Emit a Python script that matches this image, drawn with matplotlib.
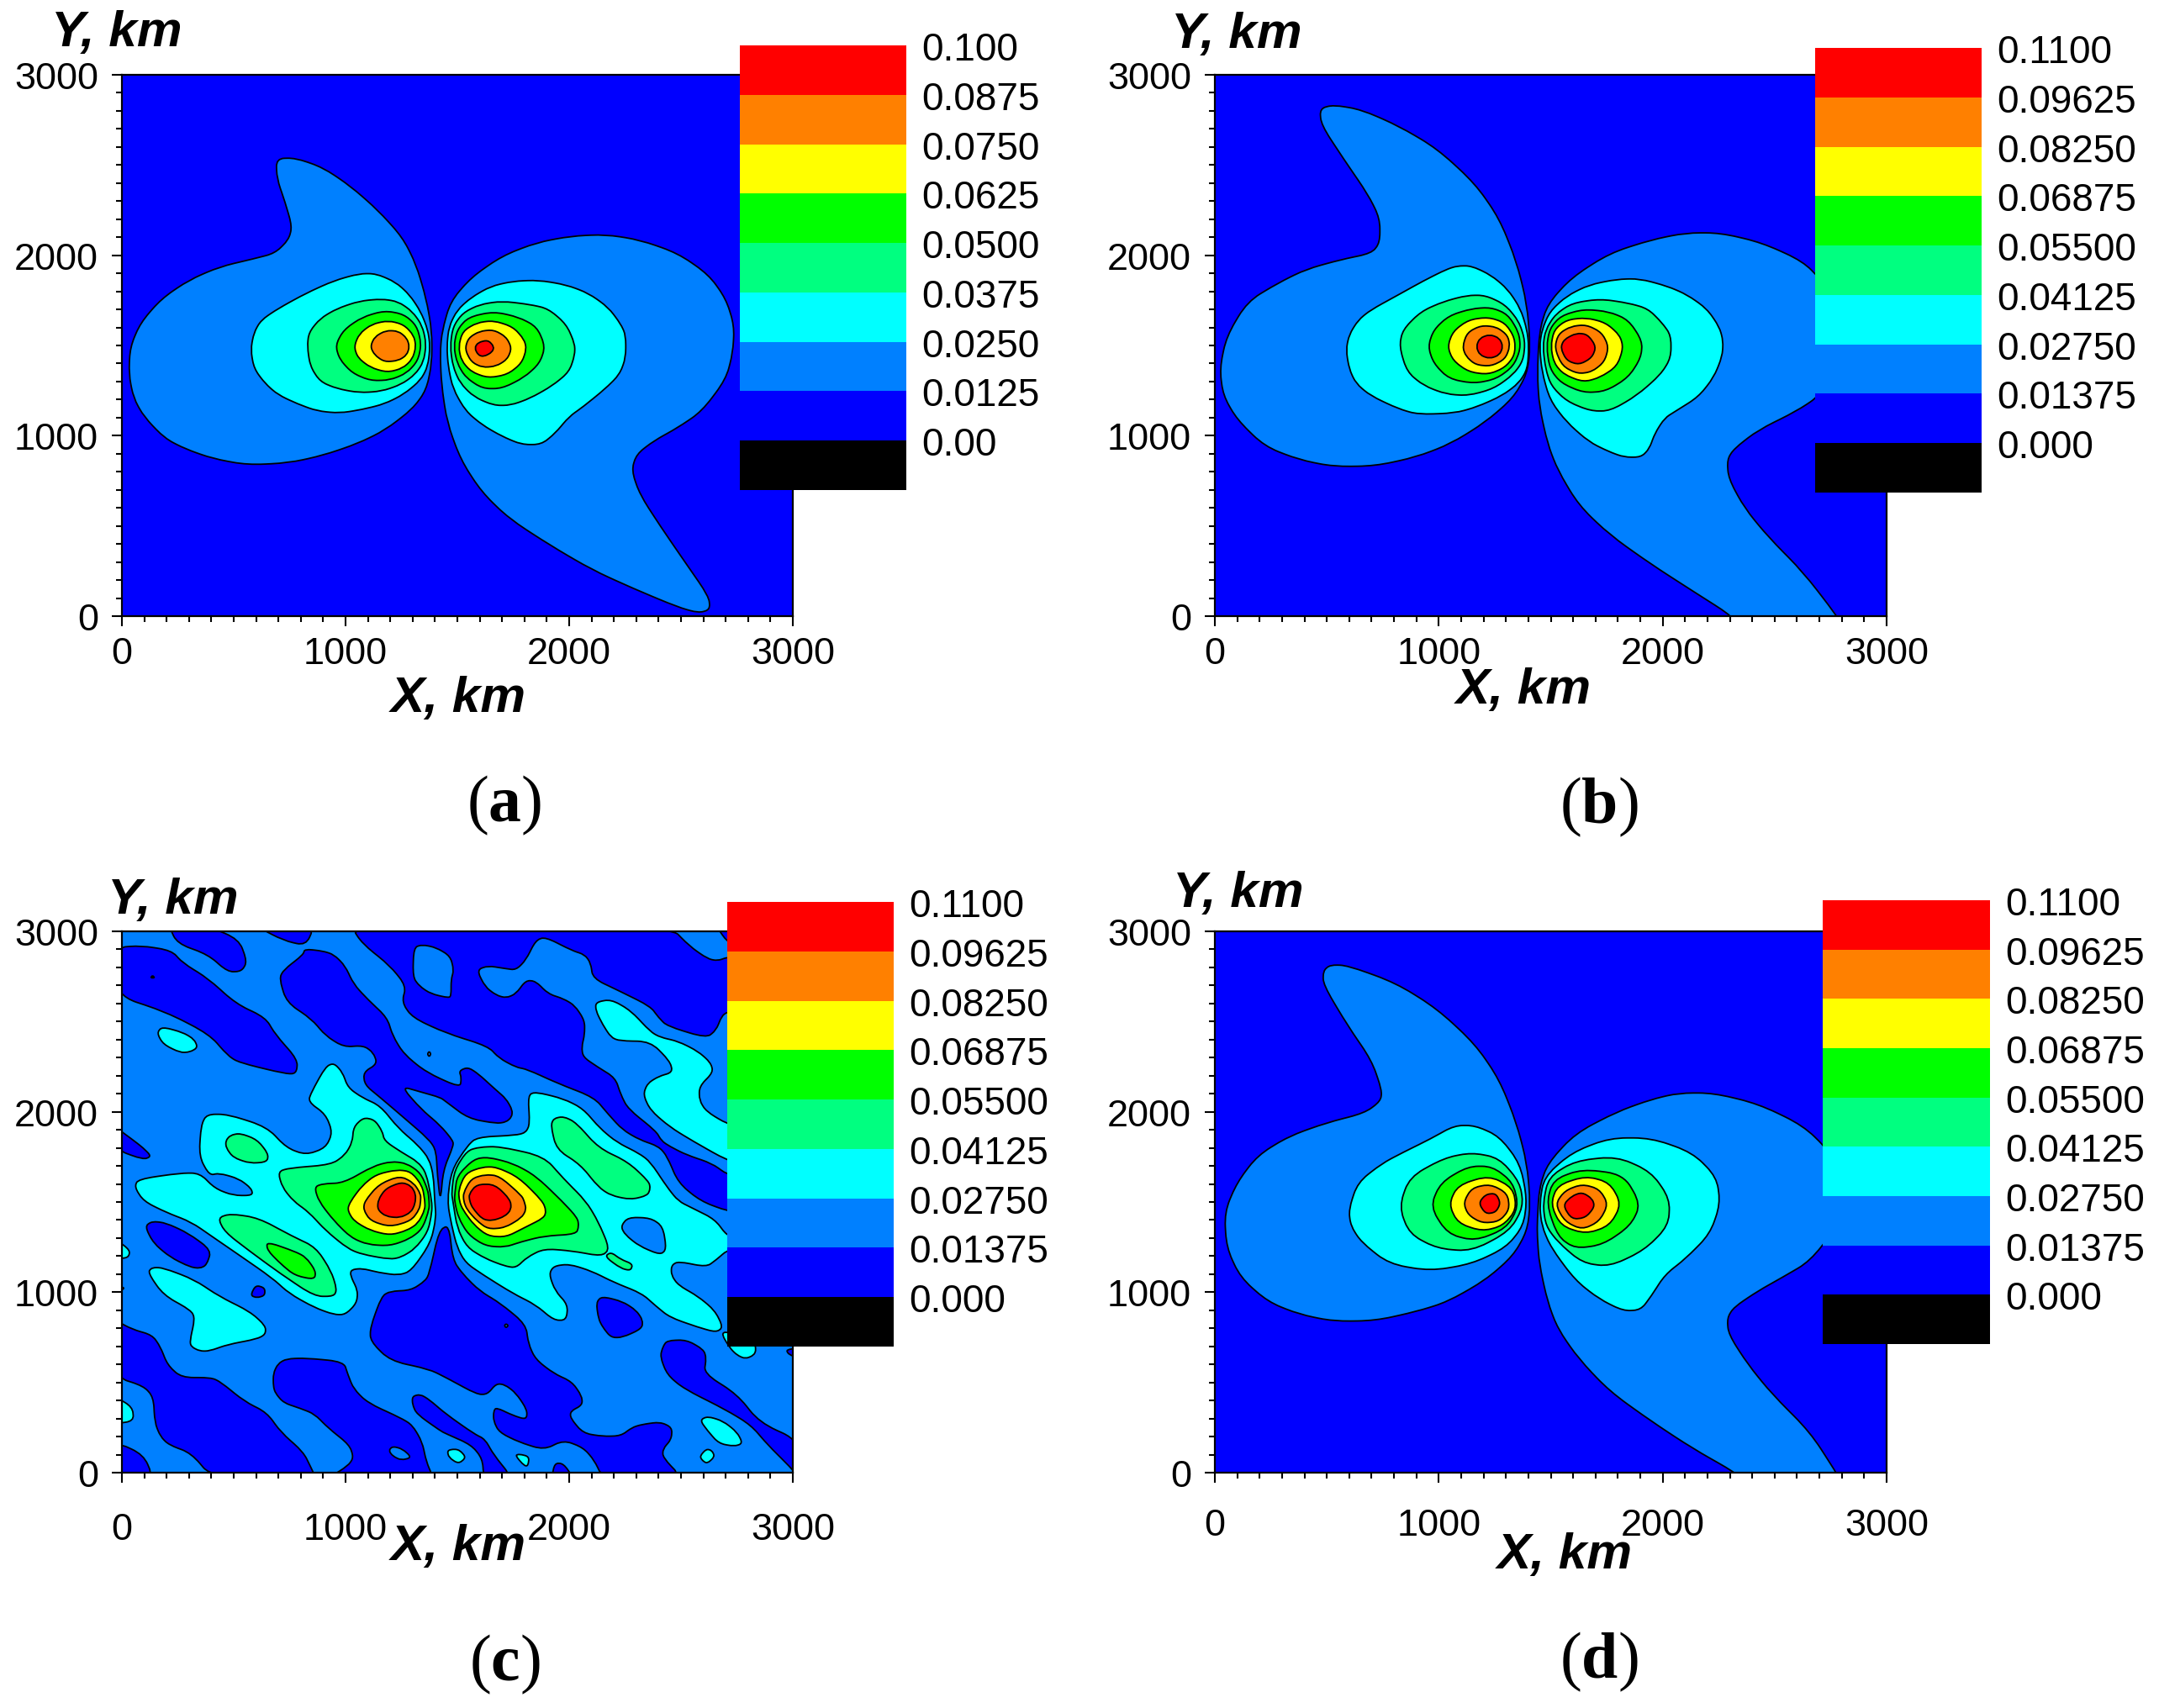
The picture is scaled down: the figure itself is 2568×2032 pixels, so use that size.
#######################################################################
#   Four contour maps with a stepped legend, isolines
#######################################################################

##########  IMPORTS  ##########
import matplotlib
matplotlib.use("Agg")
import matplotlib.pyplot as plt
from matplotlib.patches import PathPatch
from matplotlib.path import Path

plt.rcParams['font.family'] = ['Liberation Sans', 'DejaVu Sans']
plt.rcParams['mathtext.fontset'] = 'custom'
plt.rcParams['mathtext.rm'] = 'Liberation Serif'
plt.rcParams['mathtext.bf'] = 'Liberation Serif:bold'

W, H = 2568, 2033

### Legend bands, bottom to top ###
band_colors = ['#000000', '#0000ff', '#0080ff', '#00ffff', '#00ff80', '#00ff00', '#ffff00', '#ff8000', '#ff0000']
labels_a = ['0.00', '0.0125', '0.0250', '0.0375', '0.0500', '0.0625', '0.0750', '0.0875', '0.100']
labels_b = ['0.000', '0.01375', '0.02750', '0.04125', '0.05500', '0.06875', '0.08250', '0.09625', '0.1100']
BLUE, AZURE, CYAN, SPRING, GREEN, YELLOW, ORANGE, RED = 1, 2, 3, 4, 5, 6, 7, 8

ticks_major = [0, 1000, 2000, 3000]
ticks_minor = [v for v in range(0, 3001, 100)]

### Panel a isolines (km) ###
a_azure_l = [(690,2536),(776,2539),(899,2486),(1023,2382),(1146,2248),(1254,2100),(1315,1951),(1361,1758),(1386,1580),(1386,1402),(1361,1253),(1300,1149),(1177,1031),(1053,956),(899,891),(745,849),(561,838),(407,873),(283,927),(191,986),(99,1105),(52,1209),(31,1342),(37,1491),(83,1625),(176,1758),(299,1862),(437,1936),(591,1981),(684,2011),(745,2085),(761,2159),(730,2293),(693,2426)]
a_azure_r = [(1432,1580),(1469,1743),(1562,1877),(1700,1996),(1854,2070),(2008,2106),(2162,2115),(2316,2085),(2486,2011),(2624,1892),(2701,1758),(2738,1610),(2732,1461),(2701,1313),(2593,1135),(2486,1045),(2378,971),(2301,897),(2279,808),(2316,674),(2409,496),(2516,303),(2624,110),(2630,36),(2578,18),(2486,50),(2285,154),(2101,258),(1916,392),(1731,541),(1608,689),(1515,867),(1454,1075),(1429,1283),(1423,1461)]
a_cyan_l = [(576,1476),(590,1570),(622,1640),(698,1704),(823,1789),(948,1859),(1061,1898),(1136,1898),(1224,1851),(1286,1781),(1336,1688),(1368,1587),(1378,1494),(1368,1385),(1336,1308),(1261,1230),(1174,1176),(1074,1145),(973,1125),(873,1137),(786,1176),(698,1227),(640,1290),(591,1372)]
a_spring_l = [(829,1494),(836,1572),(886,1649),(961,1704),(1061,1746),(1161,1758),(1236,1743),(1299,1688),(1343,1610),(1361,1510),(1349,1409),(1311,1339),(1249,1284),(1161,1246),(1061,1238),(961,1261),(886,1300),(842,1385)]
a_green_l = [(955,1502),(992,1587),(1074,1657),(1174,1693),(1261,1673),(1318,1610),(1339,1510),(1324,1416),(1274,1347),(1199,1308),(1111,1305),(1030,1347),(973,1424)]
a_yellow_l = [(1038,1494),(1061,1564),(1117,1618),(1192,1638),(1261,1615),(1305,1556),(1315,1494),(1299,1424),(1255,1373),(1186,1351),(1111,1378),(1055,1432)]
a_orange_l = [(1111,1494),(1130,1548),(1180,1583),(1236,1580),(1274,1541),(1286,1494),(1274,1447),(1236,1416),(1174,1409),(1130,1447)]
a_cyan_r = [(1453,1494),(1462,1603),(1499,1696),(1562,1766),(1649,1828),(1749,1856),(1862,1862),(1987,1836),(2087,1789),(2175,1711),(2231,1618),(2253,1556),(2253,1432),(2225,1339),(2162,1261),(2062,1160),(2000,1106),(1937,1013),(1875,951),(1787,951),(1699,997),(1612,1059),(1537,1137),(1480,1261),(1459,1385)]
a_spring_r = [(1468,1494),(1480,1603),(1524,1680),(1599,1727),(1699,1746),(1825,1727),(1906,1704),(1987,1618),(2025,1510),(2025,1447),(2000,1354),(1925,1277),(1825,1207),(1737,1168),(1662,1168),(1574,1215),(1512,1292),(1480,1385)]
a_green_r = [(1484,1494),(1499,1587),(1549,1657),(1662,1688),(1774,1657),(1856,1603),(1893,1494),(1868,1401),(1799,1323),(1699,1261),(1612,1261),(1537,1323),(1499,1401)]
a_yellow_r = [(1505,1494),(1524,1579),(1587,1626),(1662,1638),(1749,1603),(1799,1533),(1809,1479),(1787,1401),(1724,1339),(1637,1320),(1562,1354),(1518,1416)]
a_orange_r = [(1534,1479),(1549,1541),(1599,1579),(1662,1587),(1718,1548),(1743,1486),(1724,1424),(1674,1385),(1612,1378),(1562,1409)]
a_red_r = [(1577,1486),(1593,1517),(1637,1530),(1664,1494),(1656,1463),(1618,1438),(1593,1447)]

### Panel b isolines (km) ###
b_azure_l = [(469,2813),(530,2833),(654,2807),(823,2715),(993,2590),(1162,2397),(1270,2204),(1347,1966),(1394,1729),(1409,1491),(1394,1342),(1332,1209),(1208,1075),(1054,956),(900,882),(715,832),(530,829),(376,867),(222,941),(99,1090),(37,1224),(22,1372),(52,1550),(145,1743),(284,1847),(407,1922),(561,1975),(700,2011),(737,2070),(737,2204),(684,2337),(577,2530),(475,2723)]
b_azure_r = [(1449,1580),(1486,1729),(1594,1877),(1763,2011),(1948,2085),(2103,2124),(2257,2124),(2442,2070),(2627,1966),(2719,1847),(2781,1669),(2781,1402),(2704,1224),(2596,1135),(2426,1031),(2318,927),(2288,867),(2294,763),(2365,600),(2473,437),(2627,244),(2775,6),(2781,-20),(2303,-20),(2303,6),(2133,140),(1948,288),(1763,451),(1625,615),(1532,808),(1486,956),(1449,1164),(1440,1342)]
b_cyan_l = [(586,1476),(600,1560),(640,1640),(695,1696),(820,1781),(933,1859),(1033,1921),(1083,1941),(1146,1941),(1233,1890),(1308,1812),(1365,1704),(1394,1587),(1402,1494),(1396,1370),(1358,1292),(1283,1222),(1171,1160),(1071,1125),(908,1118),(820,1149),(695,1222),(630,1290),(600,1370)]
b_spring_l = [(824,1494),(839,1587),(920,1688),(1020,1743),(1127,1778),(1208,1778),(1296,1727),(1358,1634),(1386,1525),(1377,1416),(1333,1339),(1246,1261),(1133,1222),(1033,1230),(933,1277),(858,1354)]
b_green_l = [(952,1494),(977,1587),(1045,1665),(1146,1704),(1233,1711),(1308,1673),(1358,1572),(1365,1479),(1333,1385),(1258,1315),(1158,1289),(1045,1315),(977,1401)]
b_yellow_l = [(1039,1494),(1064,1579),(1133,1642),(1221,1657),(1296,1626),(1340,1541),(1340,1447),(1296,1378),(1221,1339),(1133,1354),(1064,1416)]
b_orange_l = [(1106,1494),(1127,1572),(1189,1611),(1258,1603),(1308,1556),(1318,1494),(1296,1424),(1233,1385),(1164,1393),(1121,1440)]
b_red_l = [(1167,1494),(1183,1541),(1227,1561),(1271,1541),(1287,1494),(1271,1447),(1227,1427),(1183,1447)]
b_cyan_r = [(1450,1494),(1461,1587),(1496,1688),(1571,1774),(1671,1836),(1796,1867),(1897,1870),(2022,1828),(2109,1781),(2197,1704),(2253,1603),(2270,1525),(2266,1440),(2228,1323),(2159,1215),(2059,1137),(2009,1098),(1965,1013),(1940,927),(1903,881),(1828,881),(1759,912),(1671,966),(1571,1075),(1496,1199),(1461,1354)]
b_spring_r = [(1465,1494),(1477,1587),(1521,1673),(1596,1735),(1721,1758),(1847,1735),(1934,1704),(1997,1626),(2037,1556),(2037,1432),(1991,1339),(1884,1222),(1765,1137),(1677,1137),(1571,1191),(1502,1277),(1477,1370)]
b_green_r = [(1481,1494),(1496,1595),(1546,1665),(1646,1701),(1759,1688),(1847,1642),(1909,1525),(1903,1432),(1847,1323),(1746,1246),(1646,1238),(1546,1292),(1496,1370)]
b_yellow_r = [(1500,1494),(1515,1587),(1571,1642),(1659,1654),(1746,1626),(1809,1556),(1824,1486),(1796,1385),(1721,1323),(1646,1297),(1559,1339),(1515,1401)]
b_orange_r = [(1517,1486),(1534,1564),(1590,1606),(1659,1615),(1728,1572),(1759,1494),(1740,1409),(1684,1354),(1621,1343),(1552,1385)]
b_red_r = [(1544,1486),(1559,1533),(1615,1569),(1665,1561),(1703,1494),(1684,1432),(1627,1393),(1571,1416)]

### Panel d isolines (km) ###
d_azure_l = [(484,2781),(515,2814),(592,2811),(808,2714),(993,2570),(1162,2375),(1270,2179),(1347,1939),(1394,1713),(1409,1488),(1394,1338),(1332,1202),(1208,1067),(1039,947),(900,893),(715,842),(530,839),(376,878),(237,947),(114,1082),(52,1248),(43,1443),(99,1608),(191,1758),(330,1864),(499,1939),(669,1993),(740,2059),(746,2119),(700,2285),(592,2480),(484,2705)]
d_azure_r = [(1449,1578),(1486,1713),(1609,1879),(1794,1999),(1948,2068),(2072,2104),(2226,2104),(2426,2044),(2627,1924),(2750,1774),(2796,1548),(2781,1368),(2658,1172),(2534,1082),(2426,1007),(2318,917),(2288,857),(2294,767),(2380,601),(2488,436),(2658,225),(2775,0),(2781,-20),(2325,-20),(2325,0),(2133,135),(1948,286),(1763,451),(1625,631),(1532,797),(1486,947),(1449,1157),(1440,1308),(1440,1398)]
d_cyan_l = [(598,1458),(638,1608),(746,1713),(839,1774),(962,1849),(1070,1924),(1162,1924),(1270,1864),(1363,1713),(1394,1518),(1378,1368),(1301,1248),(1147,1157),(962,1118),(777,1157),(654,1278),(607,1368)]
d_spring_l = [(823,1473),(869,1638),(1024,1744),(1147,1774),(1270,1744),(1363,1608),(1378,1473),(1316,1338),(1147,1227),(993,1242),(869,1323)]
d_green_l = [(962,1473),(1008,1608),(1131,1698),(1239,1698),(1332,1608),(1356,1473),(1301,1353),(1162,1284),(1039,1323)]
d_yellow_l = [(1045,1488),(1085,1593),(1224,1647),(1332,1578),(1347,1458),(1286,1368),(1193,1338),(1085,1383)]
d_orange_l = [(1110,1497),(1147,1578),(1230,1599),(1307,1548),(1316,1458),(1270,1392),(1193,1383),(1131,1428)]
d_red_l = [(1178,1494),(1209,1542),(1255,1548),(1276,1494),(1255,1443),(1209,1434)]
d_cyan_r = [(1450,1488),(1470,1638),(1594,1774),(1763,1855),(1948,1855),(2133,1774),(2241,1638),(2257,1488),(2211,1323),(2103,1187),(2010,1097),(1948,977),(1902,902),(1825,896),(1717,962),(1609,1067),(1501,1248),(1460,1368)]
d_spring_r = [(1465,1488),(1490,1638),(1609,1728),(1794,1753),(1948,1668),(2032,1518),(2026,1368),(1918,1233),(1763,1142),(1640,1163),(1532,1278),(1478,1368)]
d_green_r = [(1481,1488),(1510,1623),(1640,1683),(1825,1653),(1902,1488),(1856,1368),(1733,1263),(1609,1242),(1532,1308)]
d_yellow_r = [(1500,1488),(1530,1593),(1656,1644),(1763,1608),(1816,1488),(1763,1368),(1656,1323),(1545,1368)]
d_orange_r = [(1520,1488),(1563,1563),(1640,1599),(1717,1572),(1757,1488),(1717,1392),(1640,1347),(1563,1392)]
d_red_r = [(1554,1482),(1594,1533),(1640,1554),(1686,1518),(1696,1473),(1656,1413),(1594,1404)]

### Panel c isolines (km) ###
c_blue_1 = [(-30,2910),(85,2921),(222,2894),(272,2825),(385,2739),(510,2599),(642,2522),(686,2429),(786,2289),(780,2211),(729,2211),(523,2273),(473,2312),(391,2429),(197,2553),(-30,2646)]
c_blue_2 = [(210,3030),(379,3030),(523,2957),(560,2832),(535,2778),(473,2775),(385,2871),(247,2933)]
c_blue_3 = [(598,3030),(861,3030),(823,2921),(723,2949)]
c_blue_4 = [(1024,3030),(2450,3030),(2538,2918),(2619,2848),(2663,2837),(2707,2856),(2740,2856),(2740,2553),(2707,2553),(2682,2530),(2657,2452),(2613,2409),(2438,2475),(2400,2522),(2363,2584),(2225,2669),(2106,2739),(2096,2825),(2069,2871),(2012,2894),(1893,2969),(1850,2949),(1806,2840),(1762,2786),(1712,2794),(1637,2809),(1587,2786),(1624,2693),(1674,2646),(1718,2631),(1762,2654),(1806,2728),(1850,2724),(1906,2654),(1975,2626),(2025,2589),(2069,2506),(2069,2429),(2056,2359),(2062,2304),(2125,2250),(2206,2188),(2231,2095),(2263,2017),(2388,1893),(2413,1839),(2450,1808),(2525,1761),(2638,1714),(2707,1652),(2750,1652),(2750,1450),(2707,1450),(2588,1505),(2488,1606),(2438,1753),(2400,1808),(2313,1846),(2238,1901),(2175,1986),(2112,2079),(1950,2157),(1812,2235),(1762,2247),(1687,2297),(1637,2363),(1449,2436),(1299,2522),(1252,2607),(1271,2697),(1199,2809),(1074,2933)]
c_blue_5 = [(817,2902),(898,2891),(948,2871),(998,2809),(1036,2708),(1099,2623),(1186,2522),(1211,2421),(1261,2320),(1361,2219),(1512,2134),(1518,2188),(1508,2227),(1547,2247),(1593,2211),(1668,2126),(1718,2072),(1746,2009),(1743,1971),(1718,1943),(1674,1935),(1549,1963),(1449,2056),(1424,2079),(1336,2110),(1249,2141),(1336,2017),(1424,1924),(1481,1839),(1481,1808),(1437,1676),(1424,1500),(1411,1645),(1405,1784),(1374,1846),(1243,1986),(1155,2079),(1086,2149),(1080,2219),(1142,2266),(1124,2328),(1080,2367),(992,2359),(911,2421),(848,2514),(736,2607),(704,2739),(723,2786),(811,2871)]
c_blue_6 = [(-30,845),(47,794),(135,763),(172,698),(204,597),(266,527),(398,527),(441,503),(548,395),(648,333),(711,224),(811,115),(848,22),(867,-30),(404,-30),(310,108),(210,154),(172,201),(147,278),(141,418),(97,480),(-30,530)]
c_blue_7 = [(-30,172),(97,100),(141,-30),(-30,-30)]
c_blue_8 = [(677,480),(677,550),(698,604),(736,631),(823,635),(992,615),(1011,542),(1036,465),(1099,387),(1249,302),(1299,263),(1343,170),(1361,61),(1393,-30),(923,-30),(1011,38),(1036,84),(1017,154),(923,247),(861,325),(798,356),(723,387),(686,441)]
c_blue_9 = [(1299,423),(1334,434),(1374,405),(1449,325),(1574,216),(1624,185),(1662,100),(1747,-30),(1618,-30),(1612,77),(1562,154),(1449,216),(1424,232),(1318,325),(1299,379)]
c_blue_10 = [(1922,-30),(1935,53),(1975,50),(2019,-30)]
c_blue_11 = [(1462,1373),(1480,1179),(1524,1101),(1599,1008),(1693,938),(1806,822),(1818,713),(1850,628),(1931,550),(2012,504),(2056,426),(2059,375),(2006,340),(2006,302),(2062,219),(2150,201),(2231,204),(2281,250),(2325,267),(2407,281),(2460,250),(2457,185),(2419,131),(2419,84),(2507,-30),(2150,-30),(2112,69),(2062,139),(1975,180),(1887,126),(1774,170),(1687,224),(1662,286),(1662,340),(1674,361),(1749,317),(1809,294),(1812,348),(1762,441),(1712,488),(1674,493),(1634,434),(1587,434),(1449,527),(1374,573),(1199,620),(1111,729),(1111,806),(1161,977),(1199,1005),(1293,1011),(1355,1062),(1374,1101),(1418,1342)]
c_blue_12 = [(2407,643),(2419,698),(2438,732),(2525,736),(2601,682),(2613,635),(2603,550),(2751,434),(2851,278),(3030,177),(3030,-30),(2989,30),(2888,154),(2813,263),(2701,348),(2513,465),(2438,543)]
c_blue_13 = [(2121,943),(2146,977),(2238,949),(2300,899),(2329,845),(2325,798),(2238,749),(2187,749),(2150,806),(2131,853)]
c_blue_14 = [(103,1365),(135,1393),(197,1384),(298,1326),(400,1233),(379,1151),(348,1132),(304,1140),(216,1194),(141,1272)]
c_blue_15 = [(575,982),(598,1039),(639,1024),(639,982),(604,969)]
c_blue_16 = [(-30,1916),(47,1846),(95,1800),(132,1753),(95,1735),(-30,1792)]
c_blue_17 = [(-30,1035),(18,1024),(-30,995)]
c_blue_18 = [(2657,3030),(2707,2941),(2737,2941),(2737,3030)]
c_blue_19 = [(2970,682),(3030,690),(3030,635),(2982,654)]

c_azure_1 = [(1305,2910),(1343,2926),(1405,2910),(1468,2863),(1484,2786),(1472,2731),(1472,2646),(1462,2631),(1381,2654),(1330,2697),(1301,2747)]
c_azure_2 = [(1193,123),(1211,146),(1255,131),(1296,84),(1249,69),(1211,92)]
c_azure_3 = [(1366,2320),(1374,2335),(1382,2320),(1374,2305)]
c_azure_4 = [(1710,815),(1718,825),(1728,815),(1718,803)]
c_black_dot = [(128,2742),(137,2756),(147,2742)]

c_cyan_l = [(911,2250),(948,2270),(986,2219),(1011,2134),(1074,2079),(1155,2033),(1236,1909),(1324,1815),(1374,1738),(1393,1645),(1399,1505),(1405,1412),(1380,1272),(1293,1117),(1236,1094),(1149,1109),(1074,1132),(1026,1125),(1021,1094),(1055,1008),(1049,938),(999,876),(948,876),(861,915),(748,993),(673,1078),(510,1218),(410,1303),(310,1389),(197,1443),(97,1505),(57,1582),(72,1626),(260,1660),(348,1660),(416,1575),(498,1536),(585,1536),(579,1575),(523,1629),(435,1660),(391,1648),(345,1753),(354,1924),(379,1986),(473,1986),(648,1916),(736,1800),(823,1761),(911,1800),(942,1885),(911,1986),(833,2056),(848,2110)]
c_cyan_r = [(1816,2092),(1850,2110),(1975,2072),(2062,2017),(2137,1909),(2213,1831),(2313,1769),(2363,1722),(2438,1582),(2488,1505),(2551,1466),(2651,1404),(2707,1311),(2750,1311),(2750,1233),(2707,1233),(2657,1179),(2613,1140),(2488,1171),(2457,1148),(2457,1094),(2488,1039),(2576,977),(2651,899),(2688,806),(2657,778),(2576,806),(2450,861),(2388,923),(2325,993),(2200,1055),(2100,1117),(2000,1156),(1931,1145),(1910,1101),(1937,1008),(1994,930),(1987,845),(1931,845),(1850,930),(1749,993),(1618,1094),(1537,1163),(1499,1249),(1474,1373),(1455,1505),(1474,1676),(1543,1808),(1587,1859),(1762,1870),(1806,1885),(1824,1932)]
c_cyan_1 = [(157,2436),(179,2471),(272,2440),(323,2402),(339,2356),(304,2331),(260,2328),(185,2374)]
c_cyan_2 = [(116,1109),(135,1137),(185,1135),(323,1070),(435,977),(573,892),(642,814),(642,767),(604,741),(473,710),(391,674),(348,674),(310,698),(304,729),(326,853),(310,899),(185,985)]
c_cyan_3 = [(-30,1295),(37,1233),(28,1190),(-30,1187)]
c_cyan_4 = [(-30,421),(47,364),(53,286),(-30,271)]
c_cyan_5 = [(1455,123),(1487,131),(1512,123),(1539,84),(1505,49),(1462,84)]
c_cyan_6 = [(1759,95),(1777,103),(1821,89),(1816,38),(1799,38)]
c_cyan_7 = [(2585,291),(2619,312),(2688,286),(2751,224),(2776,162),(2738,146),(2669,162),(2619,232)]
c_cyan_8 = [(2585,92),(2613,131),(2638,123),(2651,89),(2617,50),(2594,69)]
c_cyan_9 = [(2682,767),(2701,783),(2826,729),(2836,682),(2826,651),(2788,631),(2751,651),(2719,690)]
c_cyan_10 = [(2119,2607),(2187,2623),(2275,2561),(2363,2444),(2407,2413),(2488,2390),(2576,2335),(2632,2273),(2644,2219),(2582,2141),(2582,2064),(2613,2002),(2707,1932),(2750,1932),(2750,1730),(2707,1730),(2551,1839),(2450,1916),(2363,2009),(2331,2095),(2350,2157),(2400,2196),(2463,2219),(2450,2281),(2363,2390),(2225,2393),(2187,2413),(2150,2483),(2119,2561)]
c_azure_hole = [(2231,1365),(2263,1415),(2363,1412),(2419,1365),(2435,1238),(2407,1207),(2313,1256),(2250,1319)]

c_spring_l = [(698,1668),(748,1688),(936,1707),(998,1761),(1030,1831),(1036,1916),(1080,1968),(1130,1955),(1164,1893),(1174,1839),(1249,1777),(1324,1722),(1361,1660),(1386,1505),(1386,1440),(1368,1334),(1311,1241),(1249,1194),(1199,1182),(1074,1210),(1011,1241),(911,1342),(836,1443),(767,1505),(717,1582)]
c_spring_r = [(1474,1551),(1487,1676),(1543,1784),(1599,1804),(1687,1808),(1887,1753),(1975,1629),(2075,1505),(2131,1389),(2181,1241),(2146,1199),(2012,1229),(1887,1241),(1812,1194),(1762,1135),(1712,1145),(1624,1187),(1543,1249),(1499,1357),(1480,1505)]
c_spring_1 = [(2159,1198),(2187,1222),(2231,1182),(2284,1156),(2275,1120),(2231,1132)]
c_spring_2 = [(464,1839),(485,1870),(529,1881),(604,1846),(654,1769),(650,1722),(573,1714),(498,1746),(466,1800)]
c_spring_3 = [(429,1412),(485,1435),(610,1412),(761,1311),(867,1249),(936,1117),(961,1016),(948,977),(861,977),(711,1101),(573,1226),(460,1334)]
c_spring_4 = [(1918,1924),(1931,1963),(1975,1974),(2031,1940),(2131,1800),(2263,1722),(2356,1614),(2363,1575),(2350,1536),(2275,1513),(2187,1536),(2131,1582),(2050,1707),(1943,1792)]
c_green_1 = [(648,1280),(773,1226),(823,1194),(867,1117),(861,1070),(773,1093),(711,1156),(650,1233)]
c_green_l = [(861,1583),(898,1601),(992,1606),(1124,1699),(1205,1725),(1274,1714),(1336,1660),(1368,1567),(1374,1505),(1374,1458),(1343,1350),(1286,1295),(1199,1257),(1099,1264),(1024,1303),(948,1396),(880,1505)]
c_green_r = [(1489,1551),(1499,1645),(1574,1738),(1637,1749),(1749,1714),(1850,1645),(1968,1505),(2037,1412),(2043,1365),(2031,1322),(1887,1311),(1787,1280),(1712,1249),(1624,1257),(1549,1319),(1505,1412),(1487,1505)]
c_yellow_l = [(1023,1505),(1074,1590),(1136,1652),(1230,1679),(1293,1668),(1343,1590),(1355,1505),(1355,1458),(1324,1381),(1274,1342),(1199,1316),(1111,1342),(1036,1396),(1008,1458)]
c_yellow_r = [(1505,1567),(1537,1660),(1612,1694),(1674,1694),(1774,1637),(1881,1505),(1897,1451),(1887,1412),(1799,1357),(1718,1306),(1637,1311),(1574,1373),(1524,1458),(1509,1505)]
c_orange_l = [(1086,1505),(1149,1598),(1243,1645),(1305,1606),(1336,1544),(1336,1505),(1330,1458),(1293,1396),(1199,1362),(1111,1396),(1080,1458)]
c_orange_r = [(1527,1551),(1562,1629),(1624,1652),(1687,1645),(1787,1536),(1799,1505),(1808,1458),(1787,1412),(1712,1357),(1637,1350),(1587,1396),(1543,1458),(1528,1505)]
c_red_l = [(1146,1513),(1180,1575),(1249,1610),(1293,1590),(1314,1544),(1311,1490),(1293,1443),(1243,1412),(1180,1420),(1143,1458)]
c_red_r = [(1552,1544),(1587,1598),(1668,1598),(1737,1513),(1741,1458),(1712,1420),(1656,1396),(1612,1404),(1568,1466),(1555,1505)]

### Paint order of each panel ###
layers_a = [(AZURE, a_azure_l), (AZURE, a_azure_r), (CYAN, a_cyan_l), (CYAN, a_cyan_r), (SPRING, a_spring_l), (SPRING, a_spring_r), (GREEN, a_green_l), (GREEN, a_green_r), (YELLOW, a_yellow_l), (YELLOW, a_yellow_r), (ORANGE, a_orange_l), (ORANGE, a_orange_r), (RED, a_red_r)]
layers_b = [(AZURE, b_azure_l), (AZURE, b_azure_r), (CYAN, b_cyan_l), (CYAN, b_cyan_r), (SPRING, b_spring_l), (SPRING, b_spring_r), (GREEN, b_green_l), (GREEN, b_green_r), (YELLOW, b_yellow_l), (YELLOW, b_yellow_r), (ORANGE, b_orange_l), (ORANGE, b_orange_r), (RED, b_red_l), (RED, b_red_r)]
layers_d = [(AZURE, d_azure_l), (AZURE, d_azure_r), (CYAN, d_cyan_l), (CYAN, d_cyan_r), (SPRING, d_spring_l), (SPRING, d_spring_r), (GREEN, d_green_l), (GREEN, d_green_r), (YELLOW, d_yellow_l), (YELLOW, d_yellow_r), (ORANGE, d_orange_l), (ORANGE, d_orange_r), (RED, d_red_l), (RED, d_red_r)]
layers_c = [(BLUE, p) for p in (c_blue_1, c_blue_2, c_blue_3, c_blue_4, c_blue_5, c_blue_6, c_blue_7, c_blue_8, c_blue_9, c_blue_10, c_blue_11, c_blue_12, c_blue_13, c_blue_14, c_blue_15, c_blue_16, c_blue_17, c_blue_18, c_blue_19)]
layers_c += [(AZURE, p) for p in (c_azure_1, c_azure_2, c_azure_3, c_azure_4)]
layers_c += [(0, c_black_dot)]
layers_c += [(CYAN, p) for p in (c_cyan_l, c_cyan_r, c_cyan_1, c_cyan_2, c_cyan_3, c_cyan_4, c_cyan_5, c_cyan_6, c_cyan_7, c_cyan_8, c_cyan_9, c_cyan_10)]
layers_c += [(AZURE, c_azure_hole)]
layers_c += [(SPRING, p) for p in (c_spring_l, c_spring_r, c_spring_1, c_spring_2, c_spring_3, c_spring_4)]
layers_c += [(GREEN, p) for p in (c_green_1, c_green_l, c_green_r)]
layers_c += [(YELLOW, c_yellow_l), (YELLOW, c_yellow_r), (ORANGE, c_orange_l), (ORANGE, c_orange_r), (RED, c_red_l), (RED, c_red_r)]


##########  FUNCTIONS  ########
def box(l, t, r, b):
	# pixel box -> figure fractions
	return [l / W, 1 - b / H, (r - l) / W, (b - t) / H]

def rounded(poly, t=0.42):
	# closed path through the read vertices, corners eased with a quadratic
	verts, codes = [], []
	n = len(poly)
	for i in range(n):
		px, py = poly[i]
		ax0, ay0 = poly[i - 1]
		bx0, by0 = poly[(i + 1) % n]
		start = (px + (ax0 - px) * t, py + (ay0 - py) * t)
		end = (px + (bx0 - px) * t, py + (by0 - py) * t)
		verts += [start, (px, py), end]
		codes += [Path.MOVETO if i == 0 else Path.LINETO, Path.CURVE3, Path.CURVE3]
	verts.append(verts[0])
	codes.append(Path.CLOSEPOLY)
	return Path(verts, codes)

def draw_panel(layers, base, legend, axes_px, legend_px, xpad, ylab_at, xlab_at, tag, tag_at):
	ax = fig.add_axes(box(*axes_px))
	ax.set_facecolor(band_colors[base])
	for band, poly in layers:
		ax.add_patch(PathPatch(rounded(poly), facecolor=band_colors[band], edgecolor='black', linewidth=1.3))
	ax.set_xlim(0, 3000)
	ax.set_ylim(0, 3000)
	ax.set_xticks(ticks_major)
	ax.set_yticks(ticks_major)
	ax.set_xticks(ticks_minor, minor=True)
	ax.set_yticks(ticks_minor, minor=True)
	ax.tick_params(which='major', length=8.6, width=1.5, labelsize=32.5)
	ax.tick_params(which='minor', length=5, width=1.5)
	ax.tick_params(axis='x', which='major', pad=xpad + 1)
	ax.tick_params(axis='y', which='major', pad=11.5)
	for sp in ax.spines.values():
		sp.set_linewidth(1.6)

	# stepped legend on top of the map
	cax = fig.add_axes(box(*legend_px))
	levels = list(range(len(band_colors)))
	cax.barh(levels, [1] * len(levels), height=1, color=band_colors, linewidth=0)
	cax.set_xlim(0, 1)
	cax.set_ylim(-0.5, 8.5)
	cax.set_xticks([])
	cax.yaxis.tick_right()
	cax.set_yticks([v + 0.5 for v in levels])
	cax.set_yticklabels(legend)
	cax.tick_params(axis='y', length=0, pad=13, labelsize=33)
	for sp in cax.spines.values():
		sp.set_visible(False)

	fig.text(ylab_at[0] / W, 1 - (ylab_at[1] + 3) / H, 'Y, km', ha='center', va='center',
		fontsize=43.5, fontweight='bold', fontstyle='italic')
	fig.text(xlab_at[0] / W, 1 - (xlab_at[1] + 3) / H, 'X, km', ha='center', va='center',
		fontsize=43.5, fontweight='bold', fontstyle='italic')
	fig.text(tag_at[0] / W, 1 - (tag_at[1] + 3) / H, r'$\mathrm{(}\mathbf{' + tag + r'}\mathrm{)}$', ha='center', va='center',
		fontsize=56)


### Plot Results ###
fig = plt.figure(figsize=(W / 100, H / 100), dpi=100, facecolor='white')

draw_panel(layers_a, BLUE, labels_a, (145, 90, 943, 734), (880, 55, 1078, 584), 8, (139, 36), (545, 829), 'a', (600, 955))
draw_panel(layers_b, BLUE, labels_b, (1445, 90, 2244, 734), (2159, 58, 2357, 587), 8, (1471, 39), (1812, 819), 'b', (1902, 957))
draw_panel(layers_c, AZURE, labels_b, (145, 1109, 943, 1753), (865, 1074, 1063, 1603), 24, (206, 1068), (545, 1838), 'c', (600, 1977))
draw_panel(layers_d, BLUE, labels_b, (1445, 1109, 2244, 1753), (2168, 1072, 2367, 1600), 21, (1473, 1061), (1861, 1848), 'd', (1902, 1974))

plt.savefig('out.png', dpi=100)
